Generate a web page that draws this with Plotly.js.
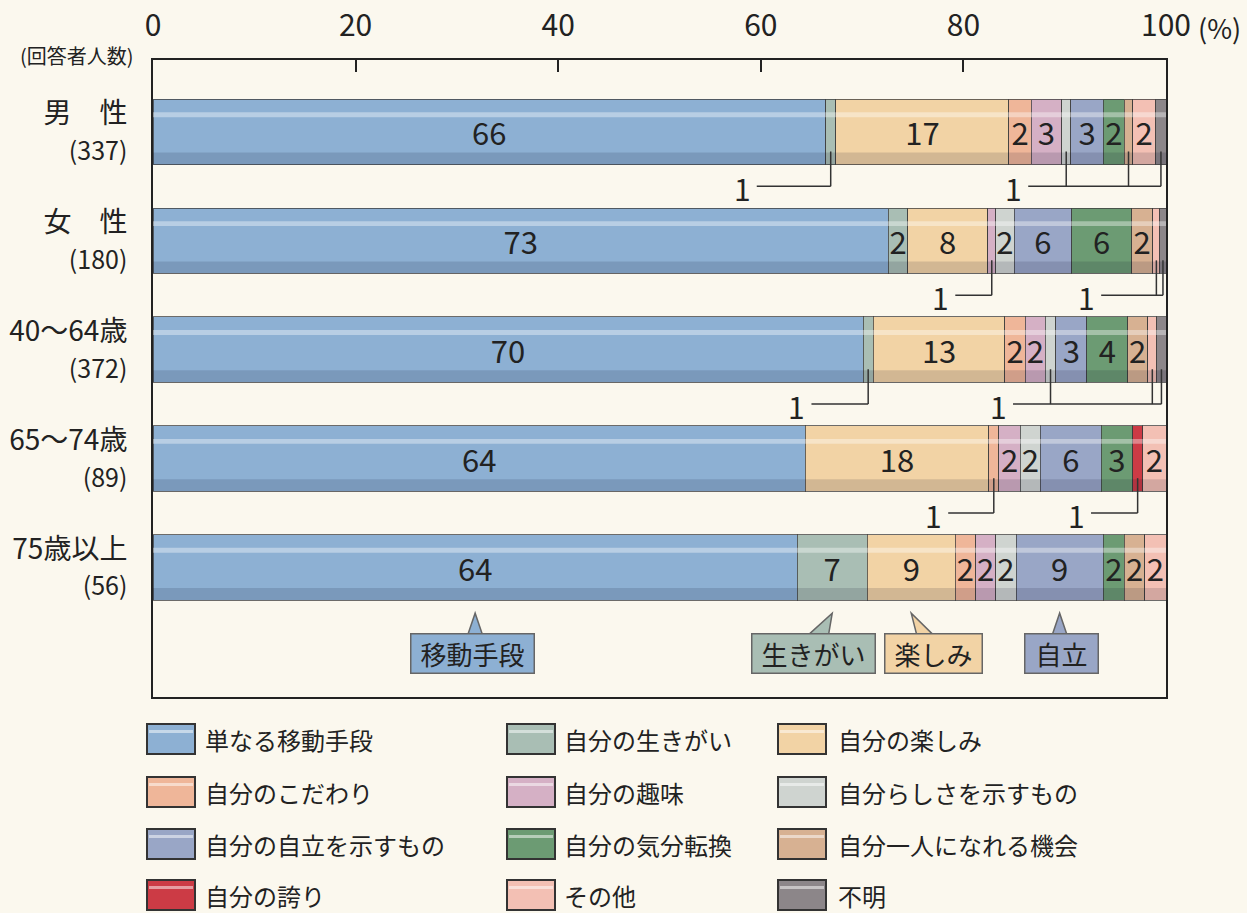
<!DOCTYPE html>
<html>
<head>
<meta charset="utf-8">
<script src="https://cdn.plot.ly/plotly-3.0.1.min.js"></script>
<style>html,body{margin:0;padding:0;background:#fbf8ee;}#chart{width:1247px;height:913px;}</style>
</head>
<body>
<div id="chart"></div>
<script>
// ---- data ----
const groups = ['男　性', '女　性', '40〜64歳', '65〜74歳', '75歳以上'];
const counts = [337, 180, 372, 89, 56];
const categories = ['単なる移動手段', '自分の生きがい', '自分の楽しみ', '自分のこだわり', '自分の趣味', '自分らしさを示すもの',
  '自分の自立を示すもの', '自分の気分転換', '自分一人になれる機会', '自分の誇り', 'その他', '不明'];
const idou      = [66.4, 72.6, 70.1, 64.4, 63.6];
const ikigai    = [1.0, 1.9, 1.0, 0, 6.9];
const tanoshimi = [17.1, 7.9, 13.0, 18.1, 8.7];
const kodawari  = [2.2, 0, 2.0, 1.0, 2.0];
const shumi     = [3.0, 0.8, 2.0, 2.1, 2.0];
const rashisa   = [0.9, 1.8, 1.0, 2.0, 2.0];
const jiritsu   = [3.2, 5.7, 3.1, 6.0, 8.6];
const kibun     = [2.1, 5.9, 4.0, 3.1, 2.1];
const hitori    = [0.8, 2.1, 2.0, 0, 2.0];
const hokori    = [0, 0, 0, 1.0, 0];
const sonota    = [2.3, 0.7, 0.9, 2.3, 2.1];
const fumei     = [1.0, 0.6, 0.9, 0, 0];
const series = [idou, ikigai, tanoshimi, kodawari, shumi, rashisa, jiritsu, kibun, hitori, hokori, sonota, fumei];
const calloutNames = ['移動手段', '生きがい', '楽しみ', '自立'];
const calloutCats = [0, 1, 2, 6];

// ---- styles ----
const colors = ['#8db0d3', '#a9beb4', '#f2d3a5', '#efb699', '#d5b0c5', '#cfd4d0',
  '#99a6c6', '#6c9b73', '#d7b192', '#cc3b45', '#f3c0b4', '#8c8689'];
const FONT = '"Noto Sans CJK JP", "Noto Sans", sans-serif';
const BG = '#fbf8ee';
const ypos = groups.map((g, i) => i);

const traces = series.map((vals, k) => ({
  type: 'bar', orientation: 'h', name: categories[k],
  x: vals, y: ypos, width: 0.6,
  marker: {color: colors[k], line: {color: 'rgba(60,60,60,0.75)', width: 1}},
  text: vals.map(v => v >= 1.5 ? String(Math.round(v)) : ''),
  textposition: 'inside', insidetextanchor: 'middle', textangle: 0, constraintext: 'none',
  textfont: {family: FONT, size: 31, color: '#222'},
  hoverinfo: 'skip', showlegend: false, cliponaxis: false
}));

const shapes = [];
const annotations = [];

// gloss on bars
ypos.forEach((c, i) => {
  const total = series.reduce((s, arr) => s + arr[i], 0);
  shapes.push({type: 'rect', xref: 'x', yref: 'y', x0: 0, x1: total, y0: c - 0.18, y1: c - 0.135,
    fillcolor: 'rgba(255,255,255,0.38)', line: {width: 0}, layer: 'above'});
  shapes.push({type: 'rect', xref: 'x', yref: 'y', x0: 0, x1: total, y0: c + 0.19, y1: c + 0.3,
    fillcolor: 'rgba(0,0,30,0.13)', line: {width: 0}, layer: 'above'});
});

// cumulative helpers
function segStart(row, cat) { let s = 0; for (let k = 0; k < cat; k++) s += series[k][row]; return s; }
function segCenter(row, cat) { return segStart(row, cat) + series[cat][row] / 2; }

// "1" leader callouts
const smallCallouts = [
  {row: 0, cats: [1], start: 59.6},
  {row: 0, cats: [5, 8, 11], start: 86.4},
  {row: 1, cats: [4], start: 79.2},
  {row: 1, cats: [10, 11], start: 93.6},
  {row: 2, cats: [1], start: 65.0},
  {row: 2, cats: [5, 10, 11], start: 84.9},
  {row: 3, cats: [3], start: 78.5},
  {row: 3, cats: [9], start: 92.6}
];
smallCallouts.forEach(cb => {
  const ly = cb.row + 0.5;
  const xs = cb.cats.map(k => segCenter(cb.row, k));
  const xmax = Math.max(...xs);
  shapes.push({type: 'line', xref: 'x', yref: 'y', x0: cb.start, x1: xmax, y0: ly, y1: ly,
    line: {color: '#333', width: 1.5}});
  xs.forEach(x => shapes.push({type: 'line', xref: 'x', yref: 'y', x0: x, x1: x, y0: cb.row + 0.18, y1: ly,
    line: {color: '#333', width: 1.5}}));
  const v = series[cb.cats[0]][cb.row];
  annotations.push({xref: 'x', yref: 'y', x: cb.start, y: ly, xanchor: 'right', yanchor: 'middle', xshift: -4, yshift: -2,
    text: String(Math.max(1, Math.round(v))), showarrow: false, font: {family: FONT, size: 30, color: '#222'}});
});

// bottom callout boxes pointing at last row
const lastRow = groups.length - 1;
const boxOffset = [-0.3, -1.8, 2.2, 0.2];
const boxWidth = [116, 116, 90, 66];
const boxY = 4.79, tipY = 4.42, baseY = 4.64;
calloutNames.forEach((nm, j) => {
  const cat = calloutCats[j];
  const tip = segCenter(lastRow, cat);
  const bx = tip + boxOffset[j];
  let b1, b2;
  if (j === 0 || j === 3) { b1 = tip - 0.8; b2 = tip + 0.8; }
  else if (j === 1) { b1 = tip - 2.6; b2 = tip - 0.4; }
  else { b1 = tip + 0.6; b2 = tip + 2.4; }
  shapes.push({type: 'path', xref: 'x', yref: 'y',
    path: `M ${b1} ${baseY} L ${tip} ${tipY} L ${b2} ${baseY} Z`,
    fillcolor: colors[cat], line: {color: '#666', width: 1.5}, layer: 'above'});
  annotations.push({xref: 'x', yref: 'y', x: bx, y: boxY, xanchor: 'center', yanchor: 'middle',
    text: nm, showarrow: false, width: boxWidth[j], height: 32, borderpad: 3,
    bgcolor: colors[cat], bordercolor: '#666', borderwidth: 1.5,
    font: {family: FONT, size: 26, color: '#222'}});
});

// manual legend (3 columns)
const L = 153, T = 60, W = 1013, H = 637;
const px2x = px => (px - L) / W;
const px2y = py => (T + H - py) / H;
const colSw = [147, 507, 778];
const colTx = [203, 562, 836];
const rowY = [739, 792, 844, 895];
categories.forEach((name, k) => {
  const r = Math.floor(k / 3), c = k % 3;
  const x0 = colSw[c], x1 = colSw[c] + 48, yc = rowY[r];
  shapes.push({type: 'rect', xref: 'paper', yref: 'paper', x0: px2x(x0), x1: px2x(x1),
    y0: px2y(yc + 15), y1: px2y(yc - 15), fillcolor: colors[k], line: {color: '#333', width: 2}});
  shapes.push({type: 'rect', xref: 'paper', yref: 'paper', x0: px2x(x0 + 2), x1: px2x(x1 - 2),
    y0: px2y(yc - 6), y1: px2y(yc - 9), fillcolor: 'rgba(255,255,255,0.5)', line: {width: 0}});
  annotations.push({xref: 'paper', yref: 'paper', x: px2x(colTx[c]), y: px2y(yc), xanchor: 'left', yanchor: 'middle',
    text: name, showarrow: false, font: {family: FONT, size: 24, color: '#222'}});
});

annotations.push({xref: 'paper', yref: 'paper', x: px2x(136), y: px2y(56), xanchor: 'right', yanchor: 'middle',
  text: '(回答者人数)', showarrow: false, font: {family: FONT, size: 20, color: '#222'}});
annotations.push({xref: 'paper', yref: 'paper', x: px2x(1196), y: px2y(28), xanchor: 'left', yanchor: 'middle',
  text: '(%)', showarrow: false, font: {family: FONT, size: 27, color: '#222'}});

const layout = {
  width: 1247, height: 913,
  paper_bgcolor: BG, plot_bgcolor: BG,
  margin: {l: L, r: 1247 - L - W, t: T, b: 913 - T - H, pad: 0},
  barmode: 'stack', bargap: 0.4,
  showlegend: false,
  font: {family: FONT, color: '#222'},
  xaxis: {side: 'top', range: [0, 100], tickvals: [0, 20, 40, 60, 80, 100],
    ticks: 'inside', ticklen: 12, tickwidth: 2, tickcolor: '#222',
    showline: true, mirror: true, linecolor: '#222', linewidth: 2,
    showgrid: false, zeroline: false, tickfont: {family: FONT, size: 30, color: '#222'},
    ticklabelstandoff: 10, fixedrange: true},
  yaxis: {range: [5.19, -0.66], tickvals: ypos,
    ticktext: groups.map((g, i) => `${g}<br><span style="font-size:25px">(${counts[i]})</span>`),
    ticks: '', showline: true, mirror: true, linecolor: '#222', linewidth: 2,
    showgrid: false, zeroline: false, tickfont: {family: FONT, size: 28, color: '#222'},
    ticklabelstandoff: 18, fixedrange: true},
  shapes: shapes,
  annotations: annotations
};

Plotly.newPlot('chart', traces, layout, {displayModeBar: false, staticPlot: true});
</script>
</body>
</html>
